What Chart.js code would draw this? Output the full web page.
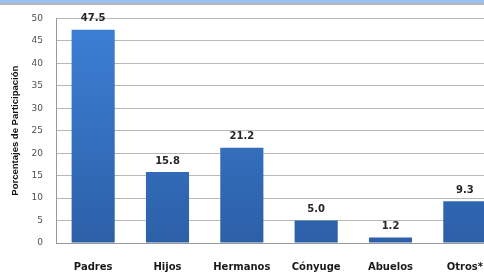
<!DOCTYPE html>
<html>
<head>
<meta charset="utf-8">
<script src="https://cdn.jsdelivr.net/npm/chart.js@4/dist/chart.umd.min.js"></script>
<style>
  html, body { margin: 0; padding: 0; width: 484px; height: 272px; overflow: hidden; background: #fff; }
  #wrap { position: absolute; left: 0; top: 0; width: 510px; height: 285px; }
  #band { position: absolute; left: 0; top: 0; width: 484px; height: 3px; background: #9cc0f2; border-bottom: 2px solid #b5b5b5; z-index: 2; }
</style>
</head>
<body>
<div id="band"></div>
<div id="wrap"><canvas id="c" width="510" height="285"></canvas></div>
<script>
const categories = ["Padres", "Hijos", "Hermanos", "Cónyuge", "Abuelos", "Otros*"];
const values = [47.5, 15.8, 21.2, 5.0, 1.2, 9.3];
const yTicks = [0, 5, 10, 15, 20, 25, 30, 35, 40, 45, 50];
const yTitle = "Porcentajes de Participación";

const labelPlugin = {
  id: 'valueLabels',
  afterDatasetsDraw(chart) {
    const ctx = chart.ctx;
    const meta = chart.getDatasetMeta(0);
    ctx.save();
    ctx.font = 'bold 10px "DejaVu Sans"';
    ctx.fillStyle = '#262626';
    ctx.textAlign = 'center';
    ctx.textBaseline = 'bottom';
    meta.data.forEach((bar, i) => {
      ctx.fillText(values[i].toFixed(1), bar.x, bar.y - 6);
    });
    ctx.restore();
  }
};

new Chart(document.getElementById('c'), {
  type: 'bar',
  data: {
    labels: categories,
    datasets: [{
      data: values,
      backgroundColor(ctx) {
        const chart = ctx.chart;
        const area = chart.chartArea;
        if (!area) return '#3670c0';
        const g = chart.ctx.createLinearGradient(0, area.top, 0, area.bottom);
        g.addColorStop(0, '#3d80d6');
        g.addColorStop(1, '#2c60a8');
        return g;
      },
      borderWidth: 0,
      categoryPercentage: 1.0,
      barPercentage: 0.58
    }]
  },
  options: {
    responsive: false,
    animation: false,
    devicePixelRatio: 1,
    layout: { padding: { top: 18, right: 8, left: 0, bottom: 0 } },
    plugins: { legend: { display: false }, tooltip: { enabled: false } },
    scales: {
      x: {
        grid: { display: false, drawTicks: false },
        border: { color: '#9a9a9a', width: 1 },
        ticks: { color: '#1a1a1a', font: { family: '"DejaVu Sans"', size: 10, weight: 'bold' }, padding: 18, maxRotation: 0, autoSkip: false },
        afterFit(scale) { scale.height = 42; }
      },
      y: {
        min: 0, max: 50,
        afterBuildTicks(scale) { scale.ticks = yTicks.map(v => ({ value: v })); },
        grid: { color: '#b8b8b8', drawTicks: false },
        border: { color: '#9a9a9a', width: 1 },
        ticks: { color: '#505050', font: { family: '"DejaVu Sans"', size: 9 }, padding: 13 },
        title: { display: true, text: yTitle, color: '#111', font: { family: '"Liberation Sans"', size: 9.5, weight: 'bold' }, padding: { top: 10, bottom: 0 } },
        afterFit(scale) { scale.width = 56; }
      }
    }
  },
  plugins: [labelPlugin]
});
</script>
</body>
</html>
